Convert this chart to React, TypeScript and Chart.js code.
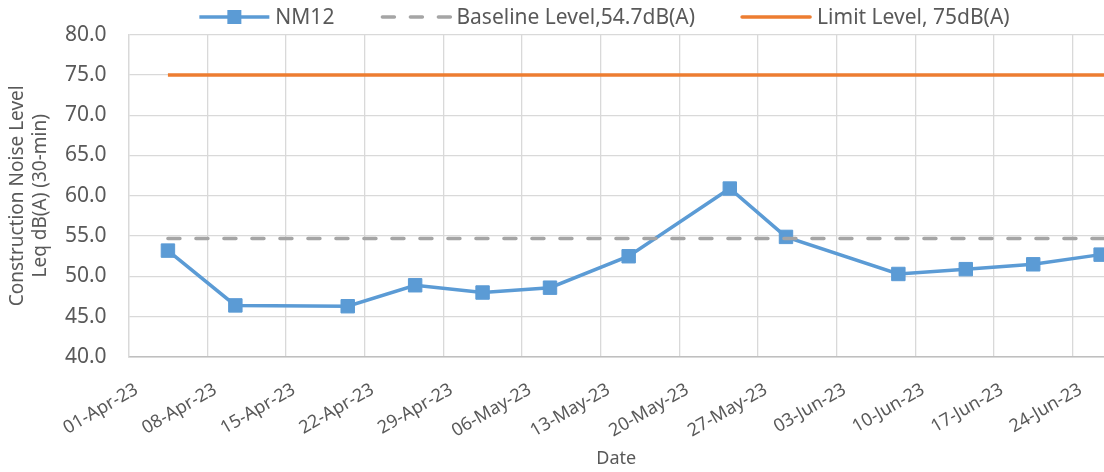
import React, { useEffect, useRef } from "react";
import { Chart, registerables } from "chart.js";

Chart.register(...registerables);

// ---------- data ----------
const axisStartDate = "2023-04-01";
const measurementDates = [
  "2023-04-04", "2023-04-10", "2023-04-20", "2023-04-26", "2023-05-02",
  "2023-05-08", "2023-05-15", "2023-05-24", "2023-05-29", "2023-06-08",
  "2023-06-14", "2023-06-20", "2023-06-26",
];
const nm12Values = [53.2, 46.4, 46.3, 48.9, 48.0, 48.6, 52.5, 60.9, 54.9, 50.3, 50.9, 51.5, 52.7];
const baselineLevel = 54.7;
const limitLevel = 75;
const seriesLabels = ["NM12", "Baseline Level,54.7dB(A)", "Limit Level, 75dB(A)"];
const xTickDays = [0, 7, 14, 21, 28, 35, 42, 49, 56, 63, 70, 77, 84];
const yTickValues = [40, 45, 50, 55, 60, 65, 70, 75, 80];
const monthNames = ["Jan", "Feb", "Mar", "Apr", "May", "Jun", "Jul", "Aug", "Sep", "Oct", "Nov", "Dec"];
const xAxisTitle = "Date";
const yAxisTitle = ["Construction Noise Level", "Leq dB(A) (30-min)"];

// ---------- helpers ----------
const DAY = 86400000;
function toUTC(iso: string) {
  const [y, m, d] = iso.split("-").map(Number);
  return Date.UTC(y, m - 1, d);
}
const startMs = toUTC(axisStartDate);
function dayOffset(iso: string) {
  return (toUTC(iso) - startMs) / DAY;
}
function formatDay(offset: number) {
  const dt = new Date(startMs + Math.round(offset) * DAY);
  const dd = String(dt.getUTCDate()).padStart(2, "0");
  const yy = String(dt.getUTCFullYear()).slice(2);
  return `${dd}-${monthNames[dt.getUTCMonth()]}-${yy}`;
}

const BLUE = "#5B9BD5";
const GRAY = "#A5A5A5";
const ORANGE = "#ED7D31";
const TEXT = "#595959";
const FONT = "'Noto Sans', sans-serif";

// points sit in the middle of their day (date axis)
const nm12Points = measurementDates.map((d, i) => ({ x: dayOffset(d) + 0.5, y: nm12Values[i] }));
const firstX = dayOffset(measurementDates[0]) + 0.5;
const lastX = dayOffset(measurementDates[measurementDates.length - 1]) + 0.5;
const baselinePoints = [{ x: firstX, y: baselineLevel }, { x: lastX + 0.4, y: baselineLevel }];
const limitPoints = [{ x: firstX, y: limitLevel }, { x: lastX + 0.4, y: limitLevel }];

const legendPlugin = {
  id: "excelLegend",
  afterDraw(chart: any) {
    const ctx = chart.ctx as CanvasRenderingContext2D;
    ctx.save();
    ctx.font = `21px ${FONT}`;
    const sample = 70;
    const gap = 6;
    const between = 46;
    const widths = seriesLabels.map((t) => ctx.measureText(t).width);
    const total = widths.reduce((a, b) => a + b, 0) + 3 * (sample + gap) + 2 * between;
    let x = 604.5 - total / 2;
    const y = 17;
    seriesLabels.forEach((label, i) => {
      ctx.save();
      ctx.lineWidth = 3.5;
      if (i === 0) {
        ctx.strokeStyle = BLUE;
        ctx.beginPath();
        ctx.moveTo(x, y);
        ctx.lineTo(x + sample, y);
        ctx.stroke();
        ctx.fillStyle = BLUE;
        ctx.fillRect(x + sample / 2 - 7, y - 7, 14, 14);
      } else if (i === 1) {
        ctx.strokeStyle = GRAY;
        ctx.lineCap = "round";
        ctx.setLineDash([12, 16]);
        ctx.beginPath();
        ctx.moveTo(x + 2, y);
        ctx.lineTo(x + sample, y);
        ctx.stroke();
      } else {
        ctx.strokeStyle = ORANGE;
        ctx.lineCap = "round";
        ctx.beginPath();
        ctx.moveTo(x + 1, y);
        ctx.lineTo(x + sample - 1, y);
        ctx.stroke();
      }
      ctx.restore();
      ctx.fillStyle = TEXT;
      ctx.textBaseline = "middle";
      ctx.textAlign = "left";
      ctx.fillText(label, x + sample + gap, y + 1);
      x += sample + gap + widths[i] + between;
    });
    ctx.restore();
  },
};

export default function App() {
  const canvasRef = useRef<HTMLCanvasElement | null>(null);

  useEffect(() => {
    if (!canvasRef.current) return;
    Chart.defaults.font.family = FONT;
    Chart.defaults.color = TEXT;
    const chart = new Chart(canvasRef.current, {
      type: "line",
      data: {
        datasets: [
          {
            label: seriesLabels[1],
            data: baselinePoints,
            borderColor: GRAY,
            borderWidth: 3.5,
            borderDash: [12, 16],
            borderCapStyle: "round",
            pointRadius: 0,
            fill: false,
          },
          {
            label: seriesLabels[2],
            data: limitPoints,
            borderColor: ORANGE,
            borderWidth: 3.5,
            pointRadius: 0,
            fill: false,
          },
          {
            label: seriesLabels[0],
            data: nm12Points,
            borderColor: BLUE,
            backgroundColor: BLUE,
            borderWidth: 3.5,
            pointStyle: "rect",
            pointRadius: 9.5,
            pointBorderWidth: 1,
            pointBorderColor: BLUE,
            pointBackgroundColor: BLUE,
            fill: false,
            tension: 0,
          },
        ],
      },
      options: {
        animation: false,
        responsive: false,
        maintainAspectRatio: false,
        clip: false,
        layout: { autoPadding: false, padding: { top: 33, left: 0, right: 0, bottom: 0 } },
        plugins: {
          legend: { display: false },
          tooltip: { enabled: false },
        },
        scales: {
          x: {
            type: "linear",
            min: 0,
            max: 86.8,
            afterBuildTicks: (scale: any) => {
              scale.ticks = xTickDays.map((v) => ({ value: v }));
            },
            afterFit: (scale: any) => {
              scale.height = 115;
              scale.paddingRight = 0;
              scale.paddingLeft = 0;
            },
            ticks: {
              autoSkip: false,
              maxRotation: 30,
              minRotation: 30,
              padding: 22,
              labelOffset: 8,
              color: TEXT,
              font: { size: 18, family: FONT },
              callback: (v: any) => formatDay(Number(v)),
            },
            grid: { color: "#D9D9D9", lineWidth: 1.3, drawTicks: false },
            border: { color: "#BFBFBF", width: 1.5 },
            title: {
              display: true,
              text: xAxisTitle,
              color: TEXT,
              font: { size: 18, family: FONT },
              padding: { top: 0, bottom: 2 },
            },
          },
          y: {
            min: 40,
            max: 80,
            afterBuildTicks: (scale: any) => {
              scale.ticks = yTickValues.map((v) => ({ value: v }));
            },
            afterFit: (scale: any) => {
              scale.width = 128.6;
            },
            ticks: {
              padding: 22,
              color: TEXT,
              font: { size: 21, family: FONT },
              callback: (v: any) => Number(v).toFixed(1),
            },
            grid: { color: "#D9D9D9", lineWidth: 1.3, drawTicks: false },
            border: { color: "#D9D9D9", width: 1.3 },
            title: {
              display: true,
              text: yAxisTitle,
              color: TEXT,
              font: { size: 19, family: FONT, lineHeight: 1.2 },
              padding: { top: 6, bottom: 0 },
            },
          },
        },
      },
      plugins: [legendPlugin],
    } as any);
    return () => chart.destroy();
  }, []);

  return (
    <div style={{ position: "absolute", left: 0, top: 0, width: 1104, height: 472, background: "#fff" }}>
      <canvas ref={canvasRef} width={1104} height={472} style={{ display: "block" }} />
    </div>
  );
}
